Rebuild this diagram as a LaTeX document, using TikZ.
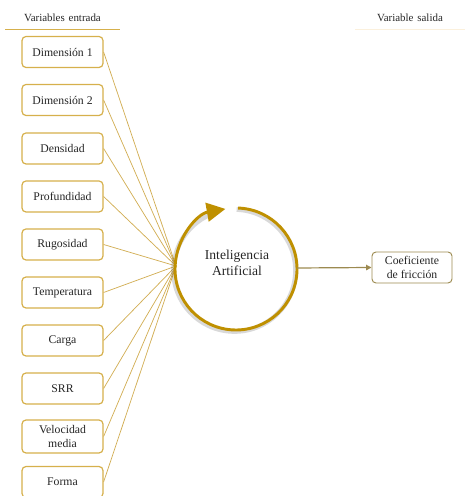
\documentclass[tikz,border=0pt]{standalone}
\usepackage{fontspec}
\setmainfont{Liberation Serif}
\usetikzlibrary{arrows.meta}
\definecolor{gold}{HTML}{D6B04C}
\definecolor{goldline}{HTML}{D2AE55}
\definecolor{darkgold}{HTML}{BF9000}
\definecolor{olive}{HTML}{9C8A50}
\definecolor{txt}{HTML}{262626}
\definecolor{faint}{HTML}{FBF0DC}
\tikzset{
  inbox/.style={draw=gold, line width=0.9pt, rounded corners=3pt, fill=white,
    minimum width=60.75pt, minimum height=23.25pt, inner sep=1pt,
    font=\fontsize{8.8}{10.5}\selectfont, text=txt, align=center},
  outbox/.style={inbox, draw=olive, line width=0.7pt, minimum width=60pt},
  feed/.style={draw=goldline, line width=0.55pt},
  head/.style={font=\fontsize{8.2}{10}\selectfont, text=txt},
}
\begin{document}
\begin{tikzpicture}[x=0.75pt,y=0.75pt]
\useasboundingbox (0,0) rectangle (467,496);
% headers
\node[head] (h1) at (62.5,478) {Variables\hspace{0.35em}entrada};
\node[head] (h2) at (410,478) {Variable\hspace{0.35em}salida};
\coordinate (u1a) at (5,467); \coordinate (u1b) at (120,467);
\coordinate (u2a) at (355,467); \coordinate (u2b) at (465,467);
\draw[gold, line width=0.6pt] (u1a) -- (u1b);
\draw[faint, line width=0.6pt] (u2a) -- (u2b);
% input boxes
\node[inbox] (b1) at (62.5,444) {Dimensión 1};
\node[inbox] (b2) at (62.5,396) {Dimensión 2};
\node[inbox] (b3) at (62.5,347.5) {Densidad};
\node[inbox] (b4) at (62.5,299.5) {Profundidad};
\node[inbox] (b5) at (62.5,251.5) {Rugosidad};
\node[inbox] (b6) at (62.5,203.5) {Temperatura};
\node[inbox] (b7) at (62.5,155.5) {Carga};
\node[inbox] (b8) at (62.5,107.5) {SRR};
\node[inbox, minimum height=24.75pt] (b9) at (62.5,59.5) {Velocidad\\media};
\node[inbox] (b10) at (62.5,14) {Forma};
% convergence point
\coordinate (conv) at (176,230);
\foreach \i in {1,...,10} { \draw[feed] (b\i.east) -- (conv); }
% circle
\coordinate (cc) at (236,227);
\node[font=\fontsize{10.2}{12.5}\selectfont, text=txt, align=center] (ai) at (237,233) {Inteligencia\\Artificial};
\draw[black, opacity=0.15, line width=3.5pt] ([shift={(88:61)}]234.5,225.5) arc[start angle=88, end angle=-255, radius=61*0.75pt];
\draw[darkgold, line width=2.2pt, -{Triangle[length=14pt, width=14pt]}] ([shift={(88:61)}]cc) arc[start angle=88, end angle=-260, radius=61*0.75pt];
\coordinate (cr) at (297,228);
% output
\node[outbox] (out) at (412,228.5) {Coeficiente\\de fricción};
\draw[olive, line width=0.9pt, -{Triangle[length=4pt, width=4pt]}] (cr) -- (out.west);
\end{tikzpicture}
\end{document}
